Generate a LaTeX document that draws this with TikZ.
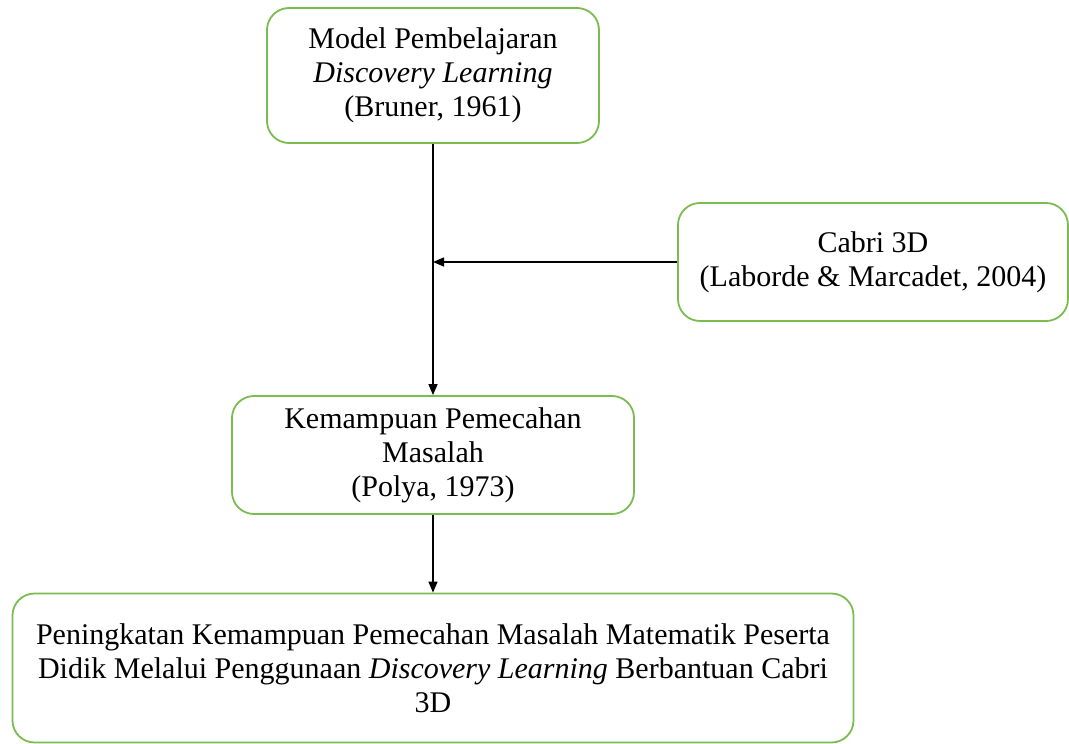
\documentclass[tikz,border=0pt]{standalone}
\usepackage{fontspec}
\setmainfont{Liberation Serif}
\usetikzlibrary{arrows.meta}
\definecolor{boxgreen}{RGB}{122,188,80}
\tikzset{kotak/.style={draw=boxgreen,line width=1.8pt,rounded corners=22pt,
                       align=center,inner sep=0pt,
                       font=\fontsize{30}{34}\selectfont},
         panah/.style={-{Stealth[length=11pt,width=9pt,inset=0pt]},line width=1.5pt}
}
\begin{document}
\begin{tikzpicture}[x=1pt,y=1pt]
\useasboundingbox (0,0) rectangle (1069,-744);

\node[kotak,minimum width=332pt,minimum height=135pt] (model) at (433,-75.5)
     {Model Pembelajaran\\\textit{Discovery Learning}\\(Bruner, 1961)};
\node[kotak,minimum width=390pt,minimum height=118pt] (cabri) at (873,-262)
     {Cabri 3D\\(Laborde \& Marcadet, 2004)};
\node[kotak,minimum width=402pt,minimum height=118pt] (kemampuan) at (433,-455)
     {Kemampuan Pemecahan\\Masalah\\(Polya, 1973)};
\node[kotak,minimum width=841pt,minimum height=149pt] (peningkatan) at (433,-668)
     {Peningkatan Kemampuan Pemecahan Masalah Matematik Peserta\\
      Didik Melalui Penggunaan \textit{Discovery Learning} Berbantuan Cabri\\3D};

\coordinate (temu) at (model.south |- cabri.west);

\draw[panah] (model) -- (kemampuan);
\draw[panah] (cabri) -- (temu);
\draw[panah] (kemampuan) -- (peningkatan);

\end{tikzpicture}
\end{document}
